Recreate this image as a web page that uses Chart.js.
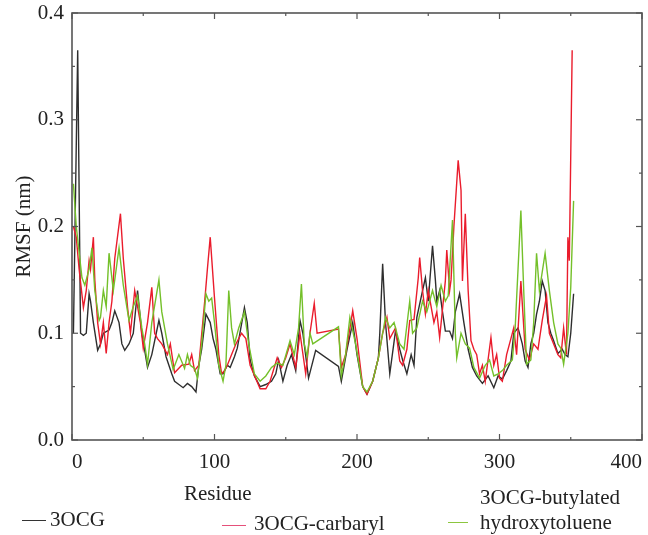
<!DOCTYPE html>
<html>
<head>
<meta charset="utf-8">
<script src="https://cdn.jsdelivr.net/npm/chart.js@4.4.1/dist/chart.umd.min.js"></script>
<style>
  body { margin: 0; background: #fff; overflow: hidden; }
  #wrap { position: relative; width: 648px; height: 535px; }
  .lbl { position: absolute; font-family: "Liberation Serif", serif; font-size: 21px; line-height: 24px; color: #222; white-space: nowrap; }
  .key { position: absolute; height: 0; border-top: 1.5px solid; }
</style>
</head>
<body>
<div id="wrap">
  <canvas id="rmsf" width="648" height="535"></canvas>
  <div class="lbl" style="left:184px;top:481px">Residue</div>
  <div class="key" style="left:22px;top:520px;width:24px;border-color:#333"></div>
  <div class="lbl" style="left:50px;top:507px">3OCG</div>
  <div class="key" style="left:222px;top:525px;width:24px;border-color:#e5507a"></div>
  <div class="lbl" style="left:254px;top:511px">3OCG-carbaryl</div>
  <div class="key" style="left:448px;top:522px;width:20px;border-color:#8cc63f"></div>
  <div class="lbl" style="left:480px;top:485px">3OCG-butylated</div>
  <div class="lbl" style="left:480px;top:510px">hydroxytoluene</div>
</div>
<script>
// RMSF per residue
const resApo = [1, 4, 6, 8, 10, 12, 13, 15, 18, 20,
  22, 26, 28, 30, 33, 35, 37, 40, 43, 46,
  49, 53, 56, 61, 63, 66, 70, 72, 75, 78,
  81, 84, 87, 89, 91, 94, 97, 99, 101, 104,
  106, 109, 111, 114, 116, 121, 123, 125, 128, 132,
  136, 140, 143, 145, 148, 151, 154, 157, 160, 162,
  166, 171, 187, 189, 193, 197, 200, 204, 207, 211,
  215, 216, 218, 220, 223, 227, 230, 232, 235, 238,
  240, 242, 246, 248, 250, 253, 255, 256, 258, 260,
  262, 265, 267, 269, 272, 275, 278, 281, 284, 288,
  292, 296, 299, 302, 305, 308, 310, 313, 316, 318,
  320, 322, 324, 326, 328, 330, 332, 334, 336, 338,
  341, 344, 346, 348, 350, 352];
const rmsfApo = [0.10, 0.365, 0.10, 0.098, 0.10, 0.137, 0.13, 0.11, 0.084, 0.09,
  0.10, 0.103, 0.11, 0.121, 0.11, 0.09, 0.084, 0.09, 0.10, 0.14,
  0.10, 0.068, 0.08, 0.112, 0.10, 0.078, 0.062, 0.055, 0.052, 0.049,
  0.053, 0.05, 0.045, 0.07, 0.085, 0.118, 0.11, 0.095, 0.085, 0.062,
  0.062, 0.07, 0.068, 0.078, 0.086, 0.124, 0.11, 0.075, 0.06, 0.05,
  0.052, 0.055, 0.062, 0.075, 0.055, 0.07, 0.08, 0.065, 0.112, 0.10,
  0.058, 0.084, 0.069, 0.055, 0.085, 0.11, 0.08, 0.05, 0.043, 0.055,
  0.077, 0.10, 0.165, 0.11, 0.062, 0.102, 0.085, 0.075, 0.062, 0.08,
  0.07, 0.115, 0.14, 0.152, 0.13, 0.182, 0.15, 0.13, 0.14, 0.12,
  0.102, 0.102, 0.095, 0.12, 0.137, 0.11, 0.085, 0.068, 0.06, 0.053,
  0.06, 0.049, 0.06, 0.057, 0.065, 0.074, 0.10, 0.105, 0.09, 0.074,
  0.068, 0.09, 0.10, 0.118, 0.13, 0.149, 0.14, 0.11, 0.10, 0.093,
  0.081, 0.085, 0.08, 0.078, 0.10, 0.137];

const resCarb = [1, 3, 5, 8, 10, 12, 13, 15, 16, 18,
  20, 22, 24, 26, 28, 30, 34, 36, 39, 41,
  44, 46, 48, 50, 53, 56, 58, 60, 63, 67,
  69, 72, 77, 82, 84, 86, 89, 93, 95, 97,
  100, 103, 105, 107, 109, 112, 115, 119, 122, 125,
  132, 136, 139, 144, 147, 150, 153, 157, 160, 164,
  167, 170, 172, 187, 189, 192, 197, 200, 204, 207,
  211, 215, 218, 221, 223, 227, 230, 232, 235, 237,
  240, 243, 244, 246, 248, 250, 252, 254, 256, 258,
  262, 263, 265, 266, 268, 271, 273, 274, 276, 278,
  280, 282, 284, 286, 288, 290, 294, 296, 298, 300,
  302, 305, 308, 310, 312, 315, 318, 321, 324, 327,
  330, 333, 335, 338, 341, 343, 345, 347, 348, 349,
  351];
const rmsfCarb = [0.20, 0.19, 0.16, 0.124, 0.14, 0.168, 0.16, 0.19, 0.15, 0.11,
  0.09, 0.11, 0.081, 0.11, 0.13, 0.17, 0.212, 0.17, 0.124, 0.10,
  0.14, 0.125, 0.11, 0.086, 0.11, 0.143, 0.10, 0.095, 0.09, 0.08,
  0.09, 0.063, 0.07, 0.071, 0.08, 0.065, 0.07, 0.128, 0.16, 0.19,
  0.133, 0.08, 0.062, 0.065, 0.07, 0.08, 0.09, 0.10, 0.095, 0.07,
  0.048, 0.048, 0.055, 0.077, 0.068, 0.077, 0.09, 0.068, 0.10, 0.062,
  0.10, 0.128, 0.10, 0.104, 0.068, 0.08, 0.121, 0.095, 0.05, 0.043,
  0.055, 0.077, 0.10, 0.115, 0.095, 0.105, 0.074, 0.07, 0.085, 0.112,
  0.113, 0.152, 0.171, 0.14, 0.118, 0.14, 0.125, 0.11, 0.12, 0.096,
  0.149, 0.178, 0.14, 0.15, 0.20, 0.262, 0.234, 0.149, 0.212, 0.14,
  0.093, 0.085, 0.08, 0.062, 0.07, 0.055, 0.096, 0.07, 0.08, 0.058,
  0.055, 0.08, 0.095, 0.105, 0.08, 0.149, 0.085, 0.075, 0.09, 0.085,
  0.112, 0.135, 0.10, 0.09, 0.08, 0.077, 0.105, 0.08, 0.19, 0.168,
  0.365];

const resBht = [1, 3, 7, 9, 12, 14, 16, 19, 20, 22,
  24, 26, 29, 33, 36, 40, 43, 46, 49, 51,
  53, 56, 61, 63, 67, 71, 75, 79, 81, 83,
  86, 88, 91, 94, 96, 98, 100, 103, 106, 108,
  110, 112, 114, 117, 121, 124, 128, 132, 136, 140,
  144, 148, 153, 156, 159, 161, 163, 165, 167, 169,
  187, 189, 192, 195, 199, 204, 207, 211, 215, 218,
  220, 223, 226, 230, 233, 237, 239, 242, 246, 249,
  253, 256, 259, 262, 264, 267, 269, 270, 273, 276,
  279, 282, 286, 290, 293, 296, 299, 302, 305, 309,
  311, 315, 317, 319, 322, 324, 326, 328, 332, 335,
  338, 341, 343, 345, 348, 350, 352];
const rmsfBht = [0.24, 0.20, 0.152, 0.145, 0.16, 0.18, 0.14, 0.112, 0.115, 0.14,
  0.125, 0.175, 0.14, 0.18, 0.145, 0.112, 0.125, 0.135, 0.105, 0.09,
  0.071, 0.11, 0.15, 0.12, 0.09, 0.066, 0.08, 0.067, 0.08, 0.07,
  0.067, 0.058, 0.09, 0.137, 0.13, 0.133, 0.11, 0.07, 0.055, 0.07,
  0.14, 0.105, 0.09, 0.105, 0.12, 0.09, 0.062, 0.055, 0.06, 0.068,
  0.072, 0.07, 0.093, 0.08, 0.105, 0.146, 0.09, 0.078, 0.10, 0.09,
  0.106, 0.06, 0.08, 0.115, 0.09, 0.05, 0.045, 0.055, 0.077, 0.10,
  0.115, 0.105, 0.11, 0.09, 0.085, 0.13, 0.10, 0.105, 0.13, 0.12,
  0.14, 0.125, 0.145, 0.13, 0.135, 0.206, 0.10, 0.077, 0.10, 0.09,
  0.086, 0.068, 0.058, 0.07, 0.075, 0.06, 0.062, 0.065, 0.07, 0.075,
  0.105, 0.215, 0.14, 0.071, 0.075, 0.11, 0.175, 0.14, 0.175, 0.14,
  0.11, 0.09, 0.086, 0.071, 0.10, 0.143, 0.224];

const pts = (xs, ys) => xs.map((x, i) => ({ x: x, y: ys[i] }));

// frame + inward ticks on all four sides, like the original plot
const frameTicks = {
  id: "frameTicks",
  afterDatasetsDraw(chart) {
    const { ctx, chartArea: a, scales } = chart;
    const xs = scales.x, ys = scales.y;
    ctx.save();
    ctx.strokeStyle = "#555";
    ctx.lineWidth = 1.6;
    ctx.strokeRect(a.left, a.top, a.right - a.left, a.bottom - a.top);
    ctx.lineWidth = 1.2;
    const xv = xs.ticks.map((t) => t.value);
    const yv = ys.ticks.map((t) => t.value);
    const tick = (x1, y1, x2, y2) => {
      ctx.beginPath();
      ctx.moveTo(x1, y1);
      ctx.lineTo(x2, y2);
      ctx.stroke();
    };
    xv.forEach((v, i) => {
      const px = xs.getPixelForValue(v);
      tick(px, a.bottom, px, a.bottom - 6);
      tick(px, a.top, px, a.top + 6);
      if (i > 0) {
        const mx = xs.getPixelForValue((v + xv[i - 1]) / 2);
        tick(mx, a.bottom, mx, a.bottom - 3);
        tick(mx, a.top, mx, a.top + 3);
      }
    });
    yv.forEach((v, i) => {
      const py = ys.getPixelForValue(v);
      tick(a.left, py, a.left + 6, py);
      tick(a.right, py, a.right - 6, py);
      if (i > 0) {
        const my = ys.getPixelForValue((v + yv[i - 1]) / 2);
        tick(a.left, my, a.left + 3, my);
        tick(a.right, my, a.right - 3, my);
      }
    });
    ctx.restore();
  },
};

const serif = "'Liberation Serif', 'Times New Roman', serif";

new Chart(document.getElementById("rmsf"), {
  type: "line",
  data: {
    datasets: [
      { label: "3OCG", data: pts(resApo, rmsfApo), borderColor: "#2e2e2e", order: 3 },
      { label: "3OCG-carbaryl", data: pts(resCarb, rmsfCarb), borderColor: "#ea1c2c", order: 2 },
      { label: "3OCG-butylated hydroxytoluene", data: pts(resBht, rmsfBht), borderColor: "#74c02a", order: 1 },
    ],
  },
  options: {
    responsive: false,
    animation: false,
    devicePixelRatio: 1,
    elements: {
      line: { borderWidth: 1.4, tension: 0 },
      point: { radius: 0 },
    },
    layout: { padding: { left: 0, right: 6, top: 13, bottom: 0 } },
    plugins: { legend: { display: false }, tooltip: { enabled: false } },
    scales: {
      x: {
        type: "linear",
        min: 0,
        max: 400,
        grid: { display: false, drawTicks: false },
        border: { display: false },
        ticks: {
          stepSize: 100,
          align: "inner",
          padding: 10,
          color: "#222",
          font: { family: serif, size: 21 },
        },
        afterFit(scale) {
          scale.height = 95;
          scale.paddingLeft = 0;
          scale.paddingRight = 0;
        },
      },
      y: {
        min: 0,
        max: 0.4,
        grid: { display: false, drawTicks: false },
        border: { display: false },
        ticks: {
          stepSize: 0.1,
          padding: 8,
          color: "#222",
          font: { family: serif, size: 21 },
          callback: (v) => v.toFixed(1),
        },
        title: {
          display: true,
          text: "RMSF (nm)",
          color: "#222",
          font: { family: serif, size: 21 },
          padding: { top: 12, bottom: 0 },
        },
        afterFit(scale) {
          scale.width = 72;
          scale.paddingTop = 0;
          scale.paddingBottom = 0;
        },
      },
    },
  },
  plugins: [frameTicks],
});
</script>
</body>
</html>
